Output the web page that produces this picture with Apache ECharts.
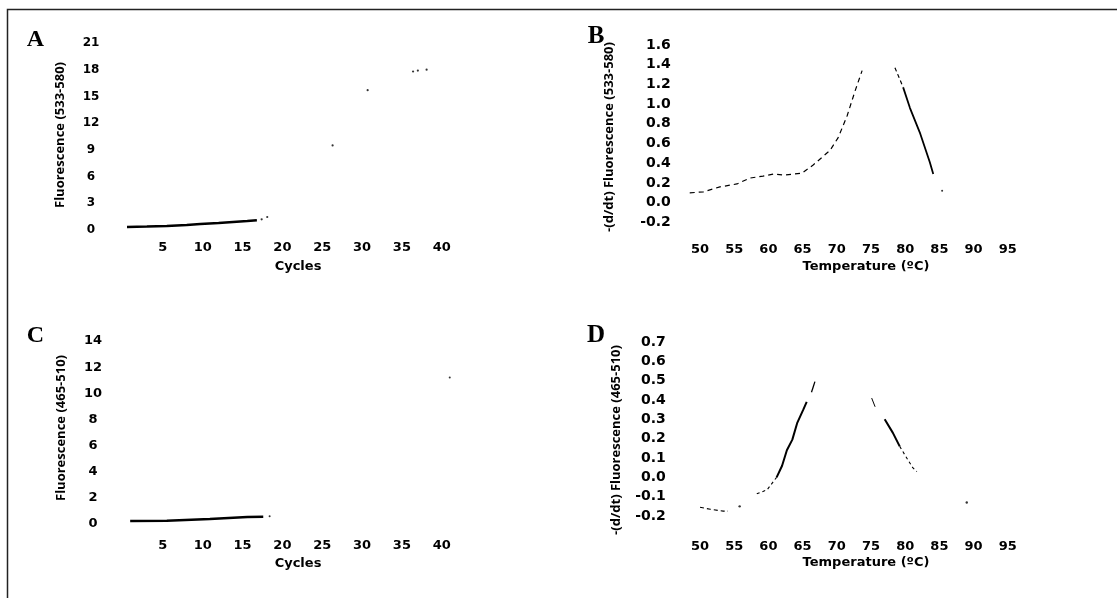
<!DOCTYPE html>
<html>
<head>
<meta charset="utf-8">
<script src="https://cdn.jsdelivr.net/npm/echarts@6/dist/echarts.min.js"></script>
<style>
  html, body { margin: 0; padding: 0; background: #fff; }
  #chart { width: 1117px; height: 598px; }
</style>
</head>
<body>
<div id="chart"></div>
<script>
// ---- Panel A: amplification, channel 533-580 (cycle, fluorescence) ----
const ampA_base = [[0.5,0.34],[3,0.38],[5.5,0.45],[8,0.56],[9.7,0.67],[12,0.78],[13.8,0.9],[15.6,1.0],[16.8,1.1]];
const ampA_late = [[17.4,1.2],[18.1,1.46],[26.3,9.5],[30.7,15.7],[36.4,17.8],[37.0,17.9],[38.1,18.0]];

// ---- Panel B: melt peak, channel 533-580 (temperature, -dF/dT) ----
const meltB_rise = [[48.5,0.10],[50.5,0.11],[52.9,0.16],[55.4,0.19],[57.3,0.25],[59.2,0.27],[60.7,0.29],[62.4,0.28],[64.9,0.30],[66.5,0.38],[69.0,0.53],[70.2,0.66],[71.5,0.88],[72.7,1.14],[73.7,1.34]];
const meltB_fallTop = [[78.5,1.37],[79.7,1.17]];
const meltB_fall = [[79.7,1.17],[80.7,0.96],[82.2,0.70],[83.6,0.41],[84.1,0.29]];
const meltB_tail = [[85.4,0.12]];

// ---- Panel C: amplification, channel 465-510 ----
const ampC_base = [[0.9,0.23],[5.5,0.25],[10.9,0.38],[15.6,0.53],[17.6,0.55]];
const ampC_late = [[18.4,0.6],[41.0,11.2]];

// ---- Panel D: melt peak, channel 465-510 ----
const meltD_low = [[50,-0.155],[51.5,-0.165],[53.4,-0.175],[54.1,-0.175]];
const meltD_lowDot = [[55.8,-0.15],[89.0,-0.13]];
const meltD_riseFoot = [[58.3,-0.085],[59.8,-0.065],[61.2,0.0]];
const meltD_rise = [[61.2,0.0],[62.0,0.06],[62.7,0.14],[63.5,0.195],[64.2,0.28],[65.1,0.35],[65.6,0.39]];
const meltD_tip = [[66.3,0.44],[66.8,0.495]];
const meltD_fallTop = [[75.1,0.41],[75.6,0.365]];
const meltD_fall = [[77.0,0.30],[78.2,0.23],[79.2,0.16]];
const meltD_fallFoot = [[79.2,0.16],[80.4,0.09],[81.1,0.05],[81.7,0.03]];

// ---- Axis ticks ----
const cycleTicks = { min: 0, max: 45, interval: 5 };
const tempTicks = { min: 45, max: 100, interval: 5 };
const ampAY = { min: 0, max: 21, interval: 3 };
const ampCY = { min: 0, max: 14, interval: 2 };
const meltBY = { min: -0.2, max: 1.6, interval: 0.2 };
const meltDY = { min: -0.2, max: 0.7, interval: 0.1 };

const labelFont = 'DejaVu Sans';
const titleFont = '"Open Sans"';

function xAxis(grid, ticks, margin) {
  return {
    type: 'value', gridIndex: grid, min: ticks.min, max: ticks.max, interval: ticks.interval,
    axisLine: { show: false }, axisTick: { show: false }, splitLine: { show: false },
    axisLabel: {
      showMinLabel: false, showMaxLabel: false, margin: margin,
      color: '#000', fontFamily: labelFont, fontWeight: 'bold', fontSize: 13
    }
  };
}
function yAxis(grid, ticks, opts) {
  return {
    type: 'value', gridIndex: grid, min: ticks.min, max: ticks.max, interval: ticks.interval,
    axisLine: { show: false }, axisTick: { show: false }, splitLine: { show: false },
    axisLabel: {
      margin: opts.margin, align: opts.align, color: '#000',
      fontFamily: labelFont, fontWeight: 'bold', fontSize: opts.size,
      formatter: v => (opts.digits ? v.toFixed(opts.digits) : String(Math.round(v)))
    }
  };
}
function line(grid, data, width, dash) {
  return {
    type: 'line', xAxisIndex: grid, yAxisIndex: grid, data: data, symbol: 'none', silent: true,
    lineStyle: { color: '#000', width: width, type: dash || 'solid' }, z: 3
  };
}
function dots(grid, data, size) {
  return {
    type: 'scatter', xAxisIndex: grid, yAxisIndex: grid, data: data, symbolSize: size || 2,
    itemStyle: { color: '#000' }, silent: true, z: 3
  };
}
function text(x, y, str, font, rot) {
  return {
    type: 'text', x: x, y: y, rotation: rot || 0, silent: true,
    style: { text: str, font: font, fill: '#000', align: 'center', verticalAlign: 'middle' }
  };
}

const chart = echarts.init(document.getElementById('chart'), null, { renderer: 'canvas' });

chart.setOption({
  animation: false,
  backgroundColor: '#fff',
  grid: [
    { left: 123, top: 43, width: 358.6, height: 187 },
    { left: 665.8, top: 45, width: 376.2, height: 177.4 },
    { left: 123, top: 341, width: 358.6, height: 183 },
    { left: 665.8, top: 342, width: 376.2, height: 174 }
  ],
  xAxis: [
    xAxis(0, cycleTicks, 11),
    xAxis(1, tempTicks, 21),
    xAxis(2, cycleTicks, 15),
    xAxis(3, tempTicks, 24)
  ],
  yAxis: [
    yAxis(0, ampAY, { margin: 32, align: 'center', size: 12 }),
    yAxis(1, meltBY, { margin: -5, align: 'right', size: 14, digits: 1 }),
    yAxis(2, ampCY, { margin: 30, align: 'center', size: 13 }),
    yAxis(3, meltDY, { margin: 0, align: 'right', size: 14, digits: 1 })
  ],
  series: [
    line(0, ampA_base, 2.5),
    dots(0, ampA_late, 2.2),

    line(1, meltB_rise, 1.2, [5, 4]),
    line(1, meltB_fallTop, 1.2, [4, 3]),
    line(1, meltB_fall, 1.8),
    dots(1, meltB_tail, 2),

    line(2, ampC_base, 2.5),
    dots(2, ampC_late, 2),

    line(3, meltD_low, 1.1, [4, 3]),
    dots(3, meltD_lowDot, 2.4),
    line(3, meltD_riseFoot, 1.1, [3, 3]),
    line(3, meltD_rise, 2),
    line(3, meltD_tip, 1.3),
    line(3, meltD_fallTop, 1),
    line(3, meltD_fall, 2),
    line(3, meltD_fallFoot, 1.1, [3, 3])
  ],
  graphic: [
    // figure frame
    { type: 'polyline', silent: true, shape: { points: [[7.5, 598], [7.5, 9.5], [1117, 9.5]] },
      style: { stroke: '#222', lineWidth: 1.5, fill: null } },

    // panel letters
    text(35.5, 40, 'A', 'bold 24px "Liberation Serif"'),
    text(596, 37, 'B', 'bold 25px "Liberation Serif"'),
    text(35.5, 336, 'C', 'bold 24px "Liberation Serif"'),
    text(596, 336, 'D', 'bold 25px "Liberation Serif"'),

    // y-axis titles
    text(60, 135, 'Fluorescence (533-580)', 'bold 13px ' + titleFont, Math.PI / 2),
    text(609, 137, '-(d/dt) Fluorescence (533-580)', 'bold 13px ' + titleFont, Math.PI / 2),
    text(61, 428, 'Fluorescence (465-510)', 'bold 13px ' + titleFont, Math.PI / 2),
    text(616, 440, '-(d/dt) Fluorescence (465-510)', 'bold 13px ' + titleFont, Math.PI / 2),

    // x-axis titles
    text(298, 267, 'Cycles', 'bold 13px "DejaVu Sans"'),
    text(866, 267, 'Temperature (ºC)', 'bold 13px "DejaVu Sans"'),
    text(298, 564, 'Cycles', 'bold 13px "DejaVu Sans"'),
    text(866, 563, 'Temperature (ºC)', 'bold 13px "DejaVu Sans"')
  ]
});
</script>
</body>
</html>
